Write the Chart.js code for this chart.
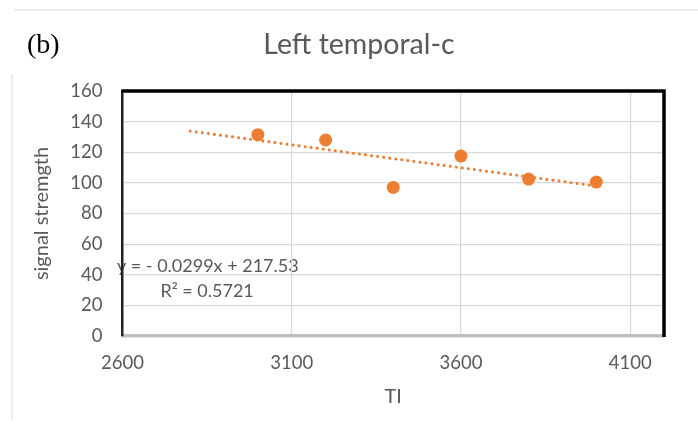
<!DOCTYPE html>
<html>
<head>
<meta charset="utf-8">
<script src="https://cdn.jsdelivr.net/npm/chart.js@4.4.0/dist/chart.umd.min.js"></script>
<style>
    html, body { margin: 0; padding: 0; background: #fff; }
    #wrap { width: 698px; height: 434px; }
</style>
</head>
<body>
<div id="wrap"><canvas id="myChart"></canvas></div>
<script>
// values
const tiValues = [3000, 3200, 3400, 3600, 3800, 4000];
const signalValues = [131.5, 128, 97, 117.5, 102.5, 100.5];

// dotted linear trendline (backward forecast to 2800)
const trendX = [2800, 4000];
const trendY = [133.8, 97.9];

const xTicks = [2600, 3100, 3600, 4100];
const yTicks = [0, 20, 40, 60, 80, 100, 120, 140, 160];

const chartTitle = "Left temporal-c";
const panelLabel = "(b)";
const equationText = "y = - 0.0299x + 217.53";
const r2Text = "R\u00b2 = 0.5721";

const orange = "#ED7D31";
const textGray = "#595959";

// frame, titles and trendline label drawn on the canvas
const decorPlugin = {
    id: "decor",
    beforeDraw(chart) {
        const ctx = chart.ctx;
        const x = chart.scales.x, y = chart.scales.y;
        ctx.save();
        // light outer frame
        ctx.strokeStyle = "#e6e6e6";
        ctx.lineWidth = 1.5;
        ctx.beginPath();
        ctx.moveTo(14, 10); ctx.lineTo(698, 10);
        ctx.moveTo(12, 74); ctx.lineTo(12, 420);
        ctx.stroke();

        ctx.fillStyle = "#000";
        ctx.font = "28px 'Liberation Serif'";
        ctx.textBaseline = "middle";
        ctx.textAlign = "left";
        ctx.fillText(panelLabel, 27, 46);

        ctx.fillStyle = textGray;
        ctx.font = "28.5px Lato";
        ctx.textAlign = "center";
        ctx.fillText(chartTitle, 359, 45);

        ctx.font = "18px Lato";
        ctx.fillText(equationText, x.getPixelForValue(2852), y.getPixelForValue(45.3));
        ctx.fillText(r2Text, x.getPixelForValue(2850), y.getPixelForValue(29));
        ctx.restore();
    },
    afterDraw(chart) {
        const ctx = chart.ctx;
        const a = chart.chartArea;
        ctx.save();
        ctx.strokeStyle = "#000";
        ctx.lineWidth = 3.5;
        ctx.beginPath();
        ctx.moveTo(a.left - 1, a.top);
        ctx.lineTo(a.right, a.top);
        ctx.lineTo(a.right, a.bottom + 1);
        ctx.stroke();
        ctx.restore();
    }
};

new Chart("myChart", {
    type: "scatter",
    data: {
        datasets: [
            {
                label: "signal",
                data: tiValues.map((v, i) => ({x: v, y: signalValues[i]})),
                backgroundColor: orange,
                borderColor: orange,
                pointRadius: 6.5,
                pointBorderWidth: 0,
                pointHoverRadius: 6.5
            },
            {
                label: "trend",
                type: "line",
                data: trendX.map((v, i) => ({x: v, y: trendY[i]})),
                borderColor: orange,
                borderWidth: 3,
                borderDash: [0.1, 6],
                borderCapStyle: "round",
                pointRadius: 0,
                fill: false,
                order: 1
            }
        ]
    },
    options: {
        responsive: true,
        maintainAspectRatio: false,
        animation: false,
        layout: {
            padding: {left: 0, top: 91, right: 34, bottom: 0}
        },
        plugins: {
            legend: {display: false},
            tooltip: {enabled: false}
        },
        scales: {
            x: {
                type: "linear",
                min: 2600,
                max: 4200,
                afterBuildTicks: (scale) => { scale.ticks = xTicks.map(v => ({value: v})); },
                afterFit: (scale) => { scale.height = 98; },
                grid: {color: "#d9d9d9", lineWidth: 1.2, drawTicks: false},
                border: {color: "#bfbfbf", width: 3.5},
                ticks: {
                    color: textGray,
                    font: {family: "Lato", size: 18.5},
                    padding: 16,
                    maxRotation: 0,
                    callback: (v) => String(v)
                },
                title: {
                    display: true,
                    text: "TI",
                    color: textGray,
                    font: {family: "Lato", size: 20},
                    padding: {top: 0, bottom: 25}
                }
            },
            y: {
                min: 0,
                max: 160,
                afterBuildTicks: (scale) => { scale.ticks = yTicks.map(v => ({value: v})); },
                afterFit: (scale) => { scale.width = 122.5; },
                grid: {color: "#d9d9d9", lineWidth: 1.2, drawTicks: false},
                border: {color: "#222", width: 2.5},
                ticks: {
                    color: textGray,
                    font: {family: "Lato", size: 18.5},
                    padding: 20,
                    callback: (v) => String(v)
                },
                title: {
                    display: true,
                    text: "signal stremgth",
                    color: textGray,
                    font: {family: "Lato", size: 20},
                    padding: {top: 30, bottom: 0}
                }
            }
        }
    },
    plugins: [decorPlugin]
});
</script>
</body>
</html>
